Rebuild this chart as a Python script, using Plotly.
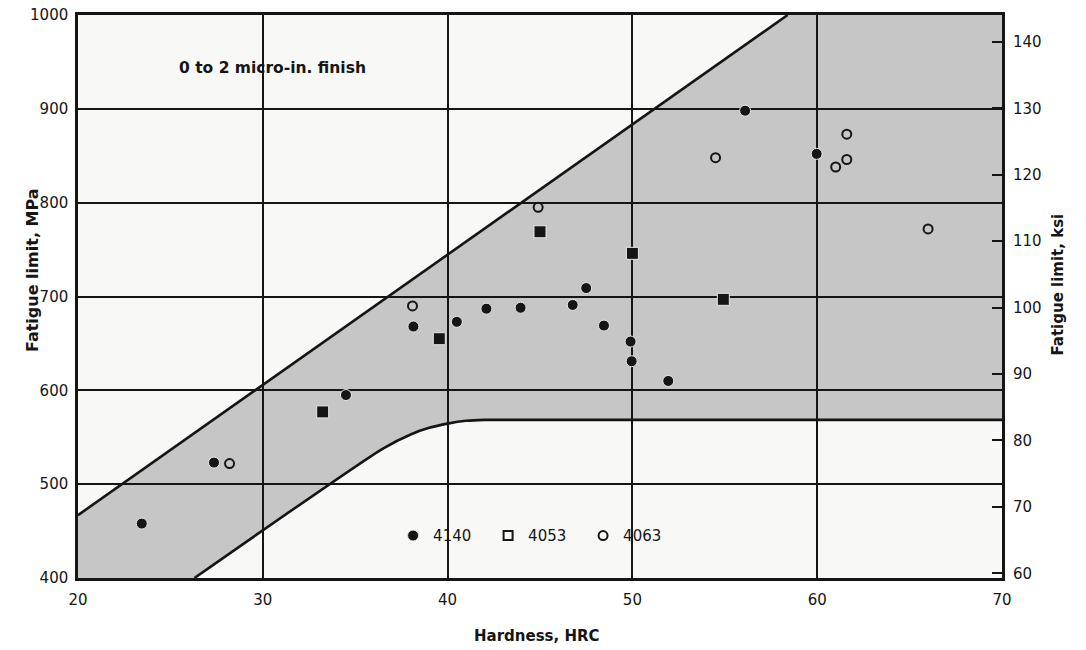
import plotly.graph_objects as go

# Measured fatigue limits (MPa) versus hardness (HRC), by steel grade
hrc_4140 = [23.45, 27.36, 34.5, 38.15, 40.5, 42.1, 43.95, 46.77, 47.5, 48.46, 49.9, 49.96, 51.94, 56.1, 59.97]
mpa_4140 = [458, 523, 595, 668, 673, 687, 688, 691, 709, 669, 652, 631, 610, 898, 852]

hrc_4053 = [33.24, 39.55, 45.0, 50.0, 54.92]
mpa_4053 = [577, 655, 769, 746, 697]

hrc_4063 = [28.2, 38.1, 44.9, 54.5, 61.0, 61.6, 61.6, 66.0]
mpa_4063 = [522, 690, 795, 848, 838, 846, 873, 772]

# Scatter-band boundaries
upper_hrc = [20, 58.4]
upper_mpa = [467, 1000]
lower_hrc = [26.3, 36.5, 38.0, 39.0, 40.0, 41.0, 42.0, 70]
lower_mpa = [400, 538, 553, 560, 564.5, 567.5, 568.5, 568.5]

x_ticks = [20, 30, 40, 50, 60, 70]
mpa_ticks = [400, 500, 600, 700, 800, 900, 1000]
ksi_ticks = [60, 70, 80, 90, 100, 110, 120, 130, 140]

FONT = "DejaVu Sans"
INK = "#151515"
BAND = "#c6c6c6"

# Band polygon: upper line, top-right corner, lower curve back down, bottom-left corner
poly_x = upper_hrc + [70] + lower_hrc[::-1] + [20]
poly_y = upper_mpa + [1000] + lower_mpa[::-1] + [400]
band_path = "M " + " L ".join(f"{x},{y}" for x, y in zip(poly_x, poly_y)) + " Z"

fig = go.Figure()

fig.add_trace(go.Scatter(x=upper_hrc, y=upper_mpa, mode="lines",
                         line=dict(color=INK, width=2.6), showlegend=False, hoverinfo="skip"))
fig.add_trace(go.Scatter(x=lower_hrc, y=lower_mpa, mode="lines",
                         line=dict(color=INK, width=2.6, shape="spline", smoothing=0.6),
                         showlegend=False, hoverinfo="skip"))

fig.add_trace(go.Scatter(x=hrc_4140, y=mpa_4140, mode="markers", name="4140",
                         marker=dict(symbol="circle", size=11, color=INK,
                                     line=dict(color="#e8e8e8", width=1))))
fig.add_trace(go.Scatter(x=hrc_4053, y=mpa_4053, mode="markers", name="4053",
                         showlegend=False,
                         marker=dict(symbol="square", size=12, color=INK,
                                     line=dict(color="#e8e8e8", width=1))))
fig.add_trace(go.Scatter(x=[None], y=[None], mode="markers", name="4053",
                         marker=dict(symbol="square-open", size=9, color=INK,
                                     line=dict(width=2))))
fig.add_trace(go.Scatter(x=hrc_4063, y=mpa_4063, mode="markers", name="4063",
                         marker=dict(symbol="circle-open", size=9, color=INK,
                                     line=dict(width=2))))
# secondary (ksi) axis carrier
fig.add_trace(go.Scatter(x=[None], y=[None], yaxis="y2", showlegend=False, hoverinfo="skip"))

fig.add_shape(type="path", path=band_path, xref="x", yref="y", layer="below",
              fillcolor=BAND, line=dict(width=0))

fig.add_annotation(x=30.5, y=944, xref="x", yref="y", text="<b>0 to 2 micro-in. finish</b>",
                   showarrow=False, font=dict(family=FONT, size=15.5, color=INK))

# Axis titles (paper coordinates relative to the plotting area)
fig.add_annotation(x=0.4968, y=-0.123, xref="paper", yref="paper",
                   text="<b>Hardness, HRC</b>", showarrow=False,
                   font=dict(family=FONT, size=15, color=INK))
fig.add_annotation(x=-0.0622, y=0.547, xref="paper", yref="paper",
                   text="<b>Fatigue limit, MPa</b>", showarrow=False, textangle=-90,
                   font=dict(family=FONT, size=16, color=INK))
fig.add_annotation(x=1.073, y=0.522, xref="paper", yref="paper",
                   text="<b>Fatigue limit, ksi</b>", showarrow=False, textangle=-90,
                   font=dict(family=FONT, size=15, color=INK))

fig.update_layout(
    width=1086, height=650,
    margin=dict(l=77.5, r=83.5, t=15, b=72, autoexpand=False),
    paper_bgcolor="white", plot_bgcolor="#f8f8f6",
    font=dict(family=FONT, size=15, color=INK),
    showlegend=True,
    legend=dict(orientation="h", x=0.341, y=0.075, xanchor="left", yanchor="middle",
                bgcolor="rgba(0,0,0,0)", font=dict(family=FONT, size=15, color=INK),
                itemwidth=30, entrywidth=50, entrywidthmode="pixels"),
    xaxis=dict(range=[20, 70], tickvals=x_ticks, showgrid=True, gridcolor=INK, gridwidth=2.2,
               showline=True, linecolor=INK, linewidth=2.5, mirror=True, zeroline=False,
               ticks="", ticklabelstandoff=6, layer="below traces"),
    yaxis=dict(range=[400, 1000], tickvals=mpa_ticks, showgrid=True, gridcolor=INK, gridwidth=2.2,
               showline=True, linecolor=INK, linewidth=2.5, mirror=True, zeroline=False,
               ticks="", ticklabelstandoff=4),
    yaxis2=dict(range=[59.3, 144.05], tickvals=ksi_ticks, overlaying="y", side="right",
                showgrid=False, zeroline=False, showline=False, ticks="inside", ticklen=10,
                tickwidth=2, tickcolor=INK, ticklabelstandoff=10),
)

fig.write_html("out.html")
